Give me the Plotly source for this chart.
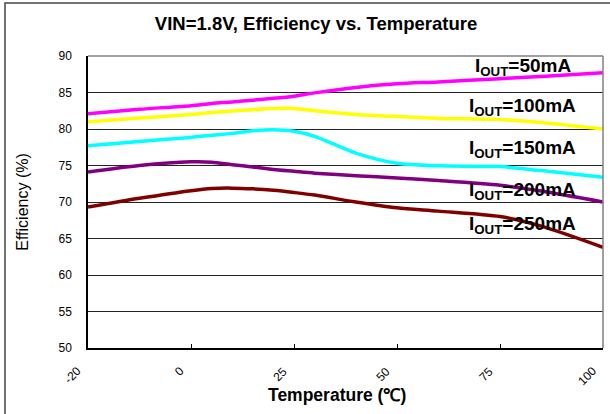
import numpy as np
import plotly.graph_objects as go

# Category axis: equally spaced tick labels
tick_temps = [-20, 0, 25, 50, 75, 100]
tick_labels = ["-20", "0", "25", "50", "75", "100"]

temps = [-20, -10, 0, 5, 10, 15, 20, 25, 30, 40, 50, 60, 75, 85, 100]

eff_50mA = [82.1, 82.7, 83.2, 83.5, 83.7, 83.95, 84.2, 84.5, 84.95, 85.7, 86.2, 86.45, 86.9, 87.2, 87.7]
eff_100mA = [81.0, 81.5, 82.0, 82.25, 82.45, 82.65, 82.8, 82.8, 82.5, 82.0, 81.7, 81.45, 81.3, 80.9, 80.0]
eff_150mA = [77.7, 78.3, 78.85, 79.15, 79.4, 79.75, 79.9, 79.7, 79.0, 76.7, 75.3, 74.95, 74.85, 74.3, 73.4]
eff_200mA = [74.1, 75.0, 75.5, 75.45, 75.1, 74.8, 74.45, 74.2, 73.95, 73.6, 73.3, 72.95, 72.3, 71.5, 70.0]
eff_250mA = [69.3, 70.5, 71.55, 71.85, 71.9, 71.8, 71.6, 71.3, 70.95, 70.0, 69.2, 68.75, 68.0, 66.7, 63.8]

series_names = ["50mA", "100mA", "150mA", "200mA", "250mA"]
series_values = [eff_50mA, eff_100mA, eff_150mA, eff_200mA, eff_250mA]
series_colors = ["#FF00FF", "#FFFF00", "#00FFFF", "#800080", "#800000"]
label_y = [88.5, 83.0, 77.2, 71.55, 66.85]

tick_pos = list(range(len(tick_temps)))
xpos = np.interp(temps, tick_temps, tick_pos)

FONT = "Liberation Sans, Arial, sans-serif"

fig = go.Figure()
for name, vals, col in zip(series_names, series_values, series_colors):
    fig.add_trace(go.Scatter(
        x=xpos, y=vals, mode="lines", name=name,
        line=dict(color=col, width=3.5, shape="spline", smoothing=0.8),
        showlegend=False, hoverinfo="skip",
    ))

for name, yv in zip(series_names, label_y):
    fig.add_annotation(
        x=4.22, y=yv, xref="x", yref="y",
        text="<b>I<sub>OUT</sub>=" + name + "</b>",
        showarrow=False, font=dict(family=FONT, size=19, color="black"),
        xanchor="center", yanchor="middle",
    )

# rotated x tick labels (placed like the original, ending left of each tick)
for p, lab in zip(tick_pos, tick_labels):
    fig.add_annotation(
        x=p, y=0, xref="x", yref="paper", text=lab, textangle=-45,
        showarrow=False, font=dict(family=FONT, size=12, color="black"),
        xanchor="right", yanchor="top", xshift=-1, yshift=-13,
    )

L, R, T, B = 88, 7, 56, 66
W, H = 610, 414
pw, ph = W - L - R, H - T - B

def px_x(p):
    return (p - L) / pw

def px_y(p):
    return (H - B - p) / ph

# x axis title
fig.add_annotation(
    x=px_x(337), y=px_y(395), xref="paper", yref="paper",
    text="<b>Temperature (℃)</b>", showarrow=False,
    font=dict(family=FONT, size=17.5, color="black"),
    xanchor="center", yanchor="middle",
)

shapes = [
    # outer chart border (left/top visible)
    dict(type="rect", xref="paper", yref="paper",
         x0=px_x(5), x1=px_x(640), y0=px_y(440), y1=px_y(3),
         line=dict(color="#444444", width=1.5), layer="above"),
    # plot area top and right border (gray)
    dict(type="line", xref="paper", yref="paper", x0=0, x1=1, y0=1, y1=1,
         line=dict(color="#808080", width=1.5), layer="above"),
    dict(type="line", xref="paper", yref="paper", x0=1, x1=1, y0=0, y1=1,
         line=dict(color="#808080", width=1.5), layer="above"),
]

fig.update_layout(
    width=W, height=H,
    margin=dict(l=L, r=R, t=T, b=B, pad=0),
    paper_bgcolor="white", plot_bgcolor="white",
    font=dict(family=FONT, color="black"),
    title=dict(text="<b>VIN=1.8V, Efficiency vs. Temperature</b>",
               x=316 / W, xanchor="center", y=1 - 23.5 / H, yanchor="middle",
               font=dict(family=FONT, size=18.5, color="black")),
    shapes=shapes,
    xaxis=dict(
        range=[0, 5], tickmode="array", tickvals=tick_pos, ticktext=tick_labels,
        showticklabels=False,
        showgrid=False, zeroline=False,
        showline=True, linecolor="black", linewidth=1.5,
        ticks="inside", ticklen=4, tickcolor="black", tickwidth=1,
    ),
    yaxis=dict(
        range=[50, 90], tickmode="array", tickvals=list(range(50, 91, 5)),
        tickfont=dict(family=FONT, size=12, color="black"),
        showgrid=True, gridcolor="#222222", gridwidth=1,
        zeroline=False, showline=True, linecolor="black", linewidth=1.5,
        ticks="", ticklabelstandoff=12,
        title=dict(text="Efficiency (%)", font=dict(family=FONT, size=16, color="black"),
                   standoff=26),
    ),
)

fig.write_html(
    "out.html",
    config={"displayModeBar": False},
    post_script="document.body.style.margin='0';document.body.style.overflow='hidden';",
)
